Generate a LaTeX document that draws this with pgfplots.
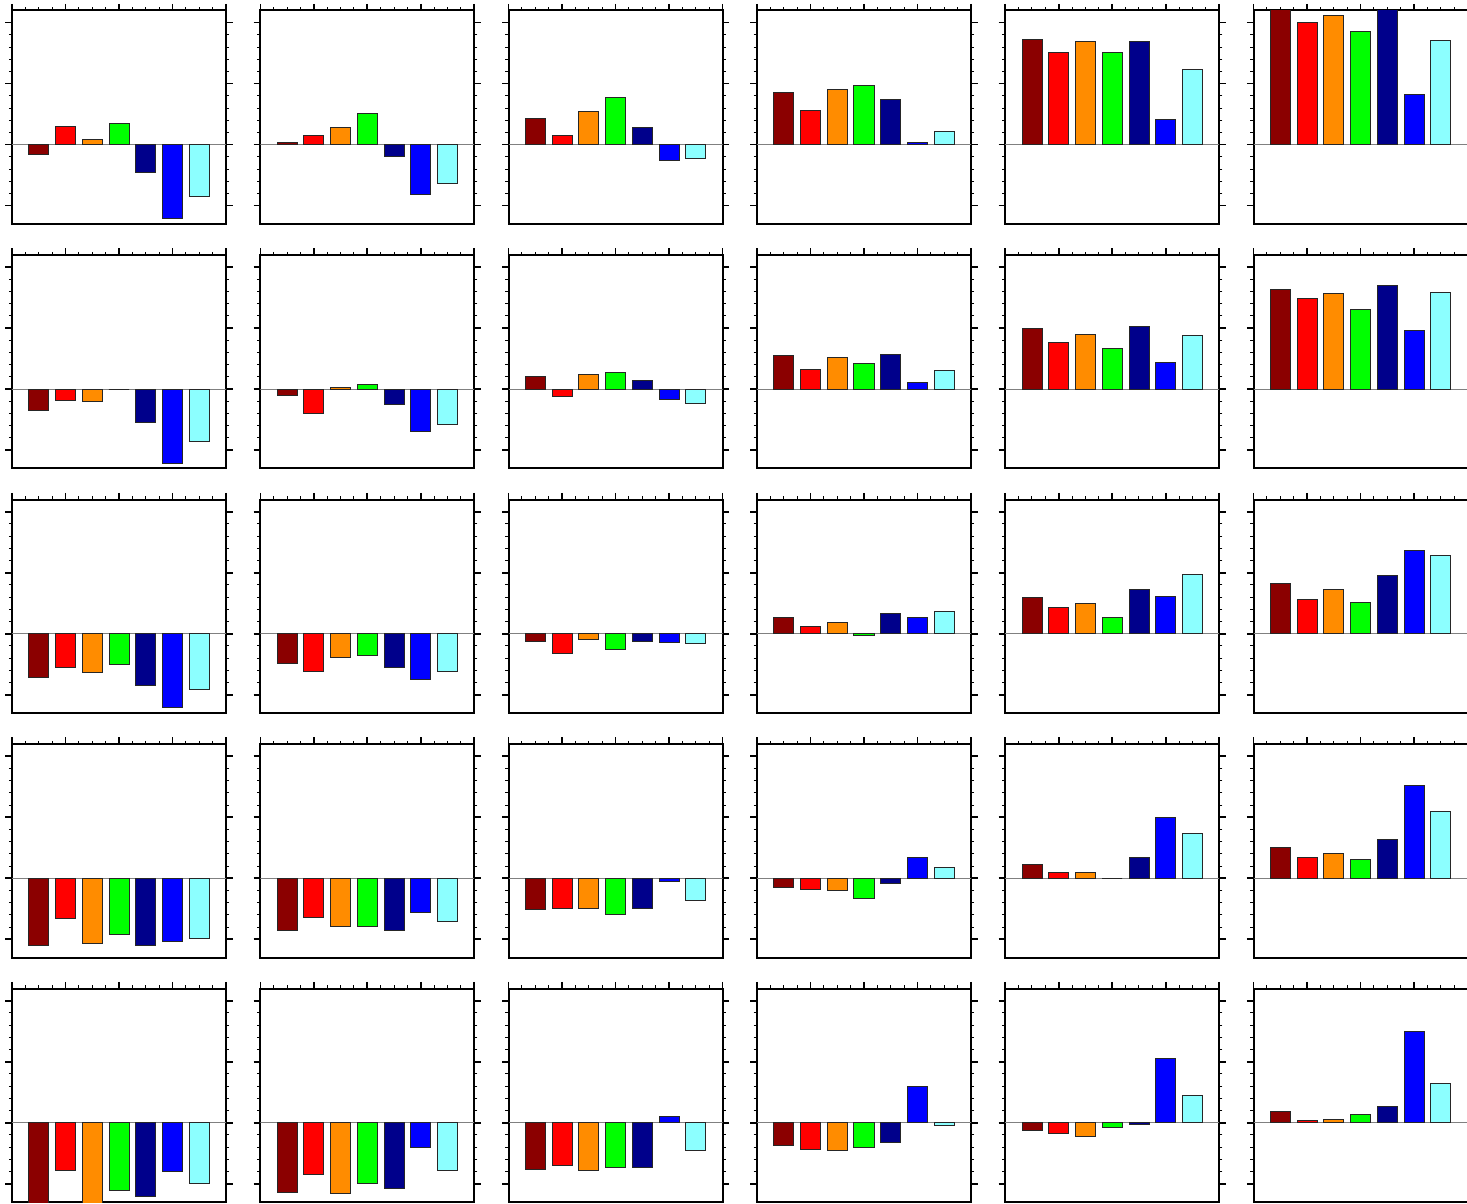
\documentclass[border=0pt]{standalone}
\usepackage{pgfplots}
\pgfplotsset{compat=1.18}

\definecolor{cDarkRed}{RGB}{139,0,0}
\definecolor{cRed}{RGB}{255,0,0}
\definecolor{cOrange}{RGB}{255,140,0}
\definecolor{cGreen}{RGB}{0,255,0}
\definecolor{cNavy}{RGB}{0,0,139}
\definecolor{cBlue}{RGB}{0,0,255}
\definecolor{cCyan}{RGB}{140,255,255}

\pgfplotsset{
  panel/.style={
    scale only axis,
    width=107pt, height=106.75pt,
    anchor=north west,
    xmin=0, xmax=4, ymin=-1.3, ymax=2.2,
    xtick={0,1,2,3,4}, minor x tick num=3,
    ytick={-1,0,1,2}, minor y tick num=4,
    xticklabels={}, yticklabels={},
    xtick pos=upper, ytick pos=both,
    tick align=outside,
    major tick length=3.3pt, minor tick length=1.6pt,
    every major tick/.style={black, line width=0.8pt},
    every minor tick/.style={black, line width=0.5pt},
    axis line style={black, line width=1pt},
  },
  colbar/.style={ybar, bar width=0.375, bar shift=0pt,
    draw=black!85, line width=0.4pt, fill=#1},
}

% #1 column, #2 row, #3-#9 the seven bar values
\newcommand{\panel}[9]{%
  \pgfmathsetmacro\panelx{6+124.15*#1}%
  \pgfmathsetmacro\panely{-5.25-122.25*#2}%
  \begin{axis}[panel, at={(\panelx pt,\panely pt)}]
    \addplot[gray, line width=0.5pt] coordinates {(0,0) (4,0)};
    \addplot[colbar=cDarkRed] coordinates {(0.5,#3)};
    \addplot[colbar=cRed]     coordinates {(1.0,#4)};
    \addplot[colbar=cOrange]  coordinates {(1.5,#5)};
    \addplot[colbar=cGreen]   coordinates {(2.0,#6)};
    \addplot[colbar=cNavy]    coordinates {(2.5,#7)};
    \addplot[colbar=cBlue]    coordinates {(3.0,#8)};
    \addplot[colbar=cCyan]    coordinates {(3.5,#9)};
  \end{axis}}

\begin{document}
\begin{tikzpicture}
% row 0
\panel{0}{0}{-0.16}{0.30}{0.08}{0.35}{-0.45}{-1.21}{-0.85}
\panel{1}{0}{0.03}{0.16}{0.28}{0.51}{-0.20}{-0.82}{-0.64}
\panel{2}{0}{0.43}{0.15}{0.54}{0.77}{0.28}{-0.26}{-0.22}
\panel{3}{0}{0.85}{0.56}{0.90}{0.98}{0.74}{0.03}{0.21}
\panel{4}{0}{1.72}{1.52}{1.69}{1.51}{1.69}{0.41}{1.23}
\panel{5}{0}{2.35}{2.01}{2.12}{1.86}{2.30}{0.83}{1.71}
% row 1
\panel{0}{1}{-0.34}{-0.18}{-0.20}{0.00}{-0.54}{-1.21}{-0.85}
\panel{1}{1}{-0.10}{-0.39}{0.03}{0.08}{-0.25}{-0.69}{-0.57}
\panel{2}{1}{0.21}{-0.11}{0.25}{0.28}{0.15}{-0.16}{-0.23}
\panel{3}{1}{0.56}{0.33}{0.52}{0.43}{0.57}{0.11}{0.31}
\panel{4}{1}{1.00}{0.77}{0.90}{0.67}{1.03}{0.44}{0.89}
\panel{5}{1}{1.64}{1.49}{1.57}{1.30}{1.70}{0.97}{1.59}
% row 2
\panel{0}{2}{-0.72}{-0.56}{-0.64}{-0.51}{-0.84}{-1.20}{-0.92}
\panel{1}{2}{-0.48}{-0.62}{-0.39}{-0.36}{-0.56}{-0.75}{-0.62}
\panel{2}{2}{-0.13}{-0.33}{-0.10}{-0.25}{-0.13}{-0.15}{-0.16}
\panel{3}{2}{0.26}{0.12}{0.19}{-0.03}{0.34}{0.26}{0.37}
\panel{4}{2}{0.59}{0.43}{0.49}{0.26}{0.72}{0.61}{0.98}
\panel{5}{2}{0.82}{0.57}{0.72}{0.51}{0.95}{1.36}{1.28}
% row 3
\panel{0}{3}{-1.10}{-0.66}{-1.07}{-0.92}{-1.10}{-1.03}{-0.98}
\panel{1}{3}{-0.85}{-0.64}{-0.79}{-0.79}{-0.85}{-0.56}{-0.70}
\panel{2}{3}{-0.51}{-0.49}{-0.49}{-0.59}{-0.49}{-0.05}{-0.36}
\panel{3}{3}{-0.15}{-0.18}{-0.20}{-0.33}{-0.08}{0.34}{0.18}
\panel{4}{3}{0.23}{0.10}{0.10}{0.00}{0.34}{1.00}{0.74}
\panel{5}{3}{0.51}{0.34}{0.41}{0.31}{0.64}{1.52}{1.10}
% row 4
\panel{0}{4}{-1.35}{-0.78}{-1.35}{-1.11}{-1.21}{-0.80}{-0.99}
\panel{1}{4}{-1.14}{-0.84}{-1.16}{-1.00}{-1.07}{-0.40}{-0.78}
\panel{2}{4}{-0.76}{-0.70}{-0.78}{-0.73}{-0.73}{0.11}{-0.46}
\panel{3}{4}{-0.38}{-0.43}{-0.46}{-0.40}{-0.32}{0.60}{-0.04}
\panel{4}{4}{-0.12}{-0.17}{-0.22}{-0.07}{-0.03}{1.06}{0.45}
\panel{5}{4}{0.18}{0.04}{0.06}{0.13}{0.26}{1.50}{0.65}
% fixed page frame
\pgfresetboundingbox
\path[use as bounding box] (0pt,0pt) rectangle (733.5pt,-602pt);
\end{tikzpicture}
\end{document}
